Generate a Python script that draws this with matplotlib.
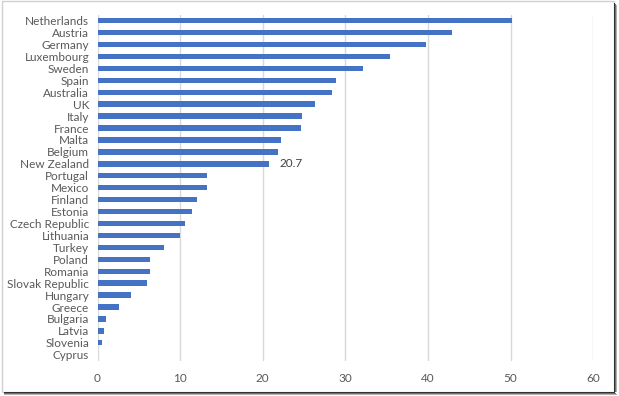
"""Horizontal bar chart by country, Excel-style."""

import matplotlib

matplotlib.use("Agg")
import matplotlib.pyplot as plt
from matplotlib.patches import Rectangle

countries = [
    "Netherlands", "Austria", "Germany", "Luxembourg", "Sweden", "Spain",
    "Australia", "UK", "Italy", "France", "Malta", "Belgium", "New Zealand",
    "Portugal", "Mexico", "Finland", "Estonia", "Czech Republic", "Lithuania",
    "Turkey", "Poland", "Romania", "Slovak Republic", "Hungary", "Greece",
    "Bulgaria", "Latvia", "Slovenia", "Cyprus",
]
values = [
    50.2, 42.9, 39.7, 35.4, 32.1, 28.9,
    28.4, 26.3, 24.8, 24.6, 22.2, 21.8, 20.7,
    13.3, 13.2, 12.0, 11.4, 10.6, 10.0,
    8.1, 6.4, 6.4, 6.0, 4.05, 2.6,
    1.0, 0.8, 0.6, 0.0,
]
label_country = "New Zealand"
x_ticks = [0, 10, 20, 30, 40, 50, 60]

BAR = "#4472C4"
TEXT = "#595959"
GRID = "#D9D9D9"

plt.rcParams["font.family"] = ["Lato", "DejaVu Sans"]

W, H = 619, 396
fig = plt.figure(figsize=(W / 100, H / 100), dpi=100)
ax = fig.add_axes([97.5 / W, 1 - 360.7 / H, (593.3 - 97.5) / W, (360.7 - 14.7) / H])

y = list(range(len(countries)))
ax.barh(y, values, height=0.45, color=BAR, zorder=3)
ax.set_ylim(len(countries) - 0.5, -0.5)
ax.set_xlim(0, 60)
ax.set_xticks(x_ticks)
ax.set_yticks(y, countries)
ax.tick_params(length=0, colors=TEXT, labelsize=8.5)
ax.tick_params(axis="x", pad=9)
ax.tick_params(axis="y", pad=6)
ax.grid(axis="x", color=GRID, linewidth=1, zorder=0)
for side in ax.spines.values():
    side.set_visible(False)

i = countries.index(label_country)
ax.text(values[i] + 1.3, i, f"{values[i]:.1f}", va="center", ha="left",
        color="#404040", fontsize=8.5)

# frame and drop shadow around the picture
fig.patches.append(Rectangle((1.5 / W, 4 / H), 612 / W, 391 / H, transform=fig.transFigure,
                             fill=False, edgecolor="#D0D0D0", linewidth=1))
for k, c in enumerate(["#303030", "#707070", "#B0B0B0"]):
    fig.patches.append(Rectangle(((614 + k) / W, 4 / H), 1 / W, (389 - k) / H,
                                 transform=fig.transFigure, color=c, linewidth=0))
    fig.patches.append(Rectangle((4 / W, (3 - k) / H), (611 + k) / W, 1 / H,
                                 transform=fig.transFigure, color=c, linewidth=0))

fig.savefig("out.png", dpi=100)
